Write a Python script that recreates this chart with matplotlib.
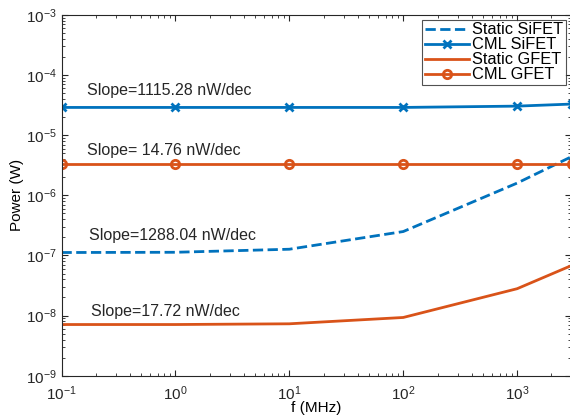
import matplotlib
matplotlib.use("Agg")
import matplotlib.pyplot as plt
import numpy as np

freq = [0.1, 1, 10, 100, 1000, 3000]
static_sifet = [1.12e-7, 1.13e-7, 1.27e-7, 2.5e-7, 1.6e-6, 4.4e-6]
cml_sifet = [2.9e-5, 2.9e-5, 2.9e-5, 2.9e-5, 3.05e-5, 3.3e-5]
static_gfet = [7.1e-9, 7.1e-9, 7.3e-9, 9.3e-9, 2.8e-8, 6.8e-8]
cml_gfet = [3.3e-6, 3.3e-6, 3.3e-6, 3.3e-6, 3.3e-6, 3.3e-6]
labels = ["Static SiFET", "CML SiFET", "Static GFET", "CML GFET"]
annotations = ["Slope=1115.28 nW/dec", "Slope= 14.76 nW/dec",
               "Slope=1288.04 nW/dec", "Slope=17.72 nW/dec"]

plt.rcParams['font.family'] = ['Liberation Sans', 'DejaVu Sans']
blue = '#0072BD'
orange = '#D95319'

W, H = 570, 419
fig = plt.figure(figsize=(W/100, H/100), dpi=100)
left, right, top, bottom = 61.5, 571.5, 15, 375.7
ax = fig.add_axes([left/W, 1-bottom/H, (right-left)/W, (bottom-top)/H])

ax.plot(freq, static_sifet, '--', color=blue, lw=2, label=labels[0])
ax.plot(freq, cml_sifet, '-', color=blue, lw=2, marker='x', ms=6, mew=2, label=labels[1])
ax.plot(freq, static_gfet, '-', color=orange, lw=2, label=labels[2])
ax.plot(freq, cml_gfet, '-', color=orange, lw=2, marker='o', ms=6, mew=2,
        mfc='none', label=labels[3])

ax.set_xscale('log')
ax.set_yscale('log')
ax.set_xlim(0.1, 3000)
ax.set_ylim(1e-9, 1e-3)
ax.set_xlabel('f (MHz)', fontsize=11, labelpad=-1.5)
ax.set_ylabel('Power (W)', fontsize=11, labelpad=1)

ax.tick_params(which='both', direction='in', top=True, right=True, colors='#262626', labelsize=11)
ax.tick_params(which='major', length=4)
ax.tick_params(which='minor', length=2)
ax.tick_params(axis='x', which='major', pad=6)
ax.yaxis.set_major_locator(matplotlib.ticker.LogLocator(base=10, numticks=10))
ax.yaxis.set_minor_locator(matplotlib.ticker.LogLocator(base=10, subs=np.arange(2, 10), numticks=10))
for s in ax.spines.values():
    s.set_color('#262626')
    s.set_linewidth(0.8)

ann_xy = [(0.166, 4.6e-5), (0.166, 4.7e-6), (0.175, 1.84e-7), (0.18, 1.0e-8)]
for t, (x, y) in zip(annotations, ann_xy):
    ax.text(x, y, t, fontsize=11.5, color='#262626', va='baseline')

leg = ax.legend(loc='upper right', fontsize=11.8, frameon=True, fancybox=False,
                edgecolor='#262626', handlelength=2.7, borderpad=0.15,
                labelspacing=0.0, handletextpad=0.22, borderaxespad=0.0)
leg.set_bbox_to_anchor((566/W, 1-20/H), transform=fig.transFigure)
leg.get_frame().set_linewidth(0.8)

fig.savefig('out.png', dpi=100)
